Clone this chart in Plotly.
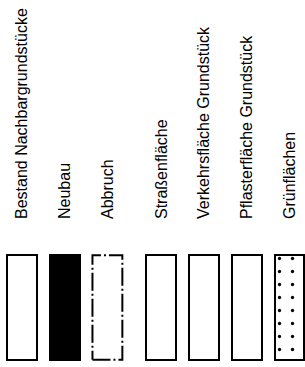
import plotly.graph_objects as go

# Legend entries (categories)
labels = [
    "Bestand Nachbargrundstücke",
    "Neubau",
    "Abbruch",
    "Straßenfläche",
    "Verkehrsfläche Grundstück",
    "Pflasterfläche Grundstück",
    "Grünflächen",
]
groups = [0, 0, 0, 1, 1, 1, 1]          # two legend groups
heights = [1, 1, 1, 1, 1, 1, 1]         # swatch heights
fills = ["white", "black", "white", "white", "white", "white", "white"]
patterns = ["", "", "", "", "", "", "."]
outlines = ["solid", "solid", "dash", "solid", "solid", "solid", "solid"]

GAP = 0.265
BARW = 0.70
xs = [i + GAP * g for i, g in enumerate(groups)]

fig = go.Figure()
for x, h, f, p, o in zip(xs, heights, fills, patterns, outlines):
    fig.add_trace(go.Bar(
        x=[x], y=[h], width=BARW,
        marker=dict(
            color=f,
            line=dict(color="black" if o == "solid" else "rgba(0,0,0,0)", width=2),
            pattern=dict(shape=p, fgcolor="black", bgcolor="white",
                         size=13, solidity=0.05, fgopacity=1, fillmode="replace"),
        ),
        showlegend=False, hoverinfo="skip",
    ))
    if o == "dash":
        x0, x1 = x - BARW / 2, x + BARW / 2
        fig.add_trace(go.Scatter(
            x=[x0, x1, x1, x0, x0], y=[0, 0, h, h, 0], mode="lines",
            line=dict(color="black", width=2, dash="18px,3px,2px,3px"),
            showlegend=False, hoverinfo="skip",
        ))

unit = 42.7
r0 = -22 / unit
r1 = r0 + 305 / unit

fig.update_layout(
    width=305, height=367,
    margin=dict(l=0, r=0, t=252, b=4),
    paper_bgcolor="white", plot_bgcolor="white",
    font=dict(family="Liberation Sans, Arial, sans-serif", size=16, color="black"),
    barmode="overlay", bargap=0,
    xaxis=dict(
        range=[r0, r1], tickmode="array", tickvals=xs, ticktext=labels,
        side="top", tickangle=-90, showgrid=False, zeroline=False,
        showline=False, ticks="", ticklabelstandoff=32,
        tickfont=dict(size=16, color="black"), fixedrange=True,
    ),
    yaxis=dict(range=[-0.03, 1.03], visible=False, fixedrange=True),
)

fig.write_html("out.html", config={"displayModeBar": False},
               post_script="document.body.style.margin='0';")
